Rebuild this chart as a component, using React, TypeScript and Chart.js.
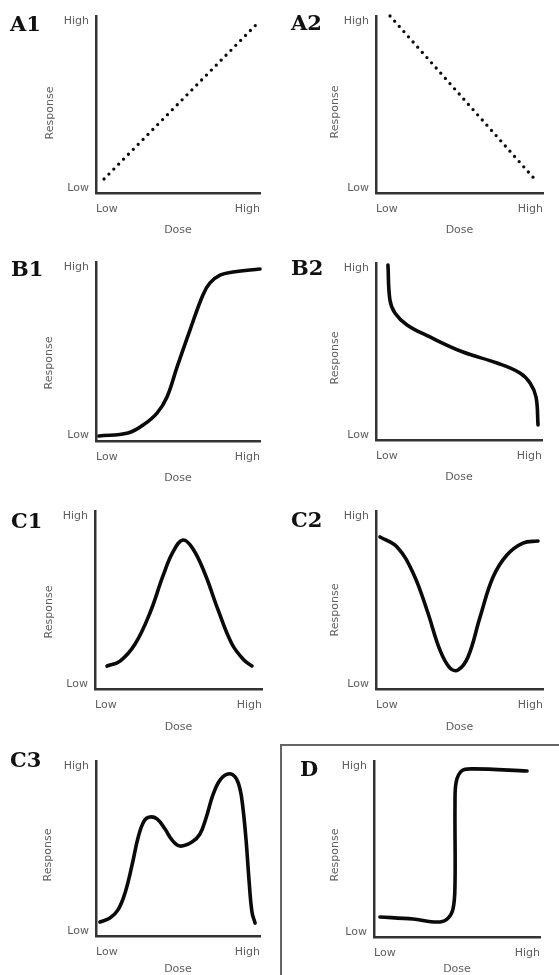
import React, { useEffect, useRef } from 'react';
import { Chart, registerables } from 'chart.js';

Chart.register(...registerables);

// ---- shared axis text ----
const xTickValues = [0, 100];
const xTickLabels = ['Low', 'High'];
const yTickValues = [3, 97];
const yTickLabels = ['Low', 'High'];
const xAxisTitle = 'Dose';
const yAxisTitle = 'Response';

// ---- data (dose 0..100 along x, response 0..100 along y) ----
const a1Dose = [4.9, 100];
const a1Response = [7.9, 97.3];

const a2Dose = [8.4, 94.6];
const a2Response = [100, 8.3];

const b1Dose = [1.8, 19.5, 28.7, 37.2, 43.3, 49.4, 57.3, 65.2, 69.5, 75.6, 83.5, 100];
const b1Response = [2.8, 4.5, 8.9, 15.6, 24.6, 41.3, 62, 81.6, 88.3, 92.7, 94.4, 96.1];

const b2Dose = [7.2, 8.4, 11.4, 18.7, 32.5, 52.4, 72.9, 86.7, 92.8, 96.4, 97.6];
const b2Response = [98.9, 79.1, 71.8, 65, 58.2, 49.7, 43.5, 37.9, 32.2, 24.3, 8.5];

const c1Dose = [7.2, 15, 24, 32.9, 40.7, 46.7, 52.7, 58.7, 65.9, 73.7, 82, 89.2, 94];
const c1Response = [12.9, 15.7, 25.3, 42.7, 63.5, 77, 83.7, 78.7, 64.6, 44.4, 25.3, 16.3, 12.9];

const c2Dose = [2.4, 12.6, 22.2, 30.5, 38.3, 44.3, 49.1, 55.1, 62.3, 70.1, 78.4, 88, 97];
const c2Response = [85.4, 79.8, 65.2, 44.4, 21.9, 11.8, 10.7, 18, 40.4, 62.9, 75.3, 82, 83.1];

const c3Dose = [2.4, 8.5, 13.4, 17.7, 22, 25.6, 29.3, 32.9, 37.2, 42.1, 46.3, 51.2, 58.5, 63.4, 67.1, 71.3, 75.6, 80.5, 84.8, 87.8, 89.6, 91.5, 93.3, 95.1, 97];
const c3Response = [8, 10.3, 14.9, 24.6, 40.6, 56, 65.7, 68, 66.9, 61.1, 54.9, 51.4, 53.7, 58.3, 67.4, 80.6, 89.1, 92.6, 90.9, 84, 73.1, 54.9, 32, 13.7, 7.4];

const dDose = [3.6, 23.5, 38, 44, 47.6, 48.8, 48.8, 49.5, 53, 60, 92.2];
const dResponse = [11.4, 10.2, 8.5, 10.2, 16, 30, 75, 88, 94.5, 95.5, 94.3];

// ---- layout / style ----
type Box = { x: number; y: number; w: number; h: number };
type Area = { l: number; r: number; t: number; b: number };
type PanelDef = {
  letter: string;
  dose: number[];
  response: number[];
  dotted?: boolean;
  tension: number;
  canvas: Box;
  area: Area;
  letterX: number;
  letterY: number;
  yTitleX: number;
  yTitleY: number;
  doseOffset: number;
};

const panels: PanelDef[] = [
  { letter: 'A1', dose: a1Dose, response: a1Response, dotted: true, tension: 0,
    canvas: { x: 0, y: 0, w: 280, h: 245 }, area: { l: 96, r: 260, t: 16, b: 193 },
    letterX: 10, letterY: 31, yTitleX: 50, yTitleY: 113, doseOffset: 37 },
  { letter: 'A2', dose: a2Dose, response: a2Response, dotted: true, tension: 0,
    canvas: { x: 280, y: 0, w: 279, h: 245 }, area: { l: 376, r: 543, t: 16, b: 193 },
    letterX: 291, letterY: 30, yTitleX: 335, yTitleY: 112, doseOffset: 37 },
  { letter: 'B1', dose: b1Dose, response: b1Response, tension: 0.4,
    canvas: { x: 0, y: 245, w: 280, h: 250 }, area: { l: 96, r: 260, t: 262, b: 441 },
    letterX: 11, letterY: 276, yTitleX: 49, yTitleY: 363, doseOffset: 37 },
  { letter: 'B2', dose: b2Dose, response: b2Response, tension: 0.4,
    canvas: { x: 280, y: 245, w: 279, h: 250 }, area: { l: 376, r: 542, t: 263, b: 440 },
    letterX: 291, letterY: 275, yTitleX: 335, yTitleY: 358, doseOffset: 37 },
  { letter: 'C1', dose: c1Dose, response: c1Response, tension: 0.4,
    canvas: { x: 0, y: 495, w: 280, h: 249 }, area: { l: 95, r: 262, t: 511, b: 689 },
    letterX: 11, letterY: 528, yTitleX: 49, yTitleY: 612, doseOffset: 38 },
  { letter: 'C2', dose: c2Dose, response: c2Response, tension: 0.4,
    canvas: { x: 280, y: 495, w: 279, h: 249 }, area: { l: 376, r: 543, t: 511, b: 689 },
    letterX: 291, letterY: 527, yTitleX: 335, yTitleY: 610, doseOffset: 38 },
  { letter: 'C3', dose: c3Dose, response: c3Response, tension: 0.4,
    canvas: { x: 0, y: 745, w: 279, h: 230 }, area: { l: 96, r: 260, t: 761, b: 936 },
    letterX: 10, letterY: 767, yTitleX: 48, yTitleY: 855, doseOffset: 33 },
  { letter: 'D', dose: dDose, response: dResponse, tension: 0.35,
    canvas: { x: 283, y: 747, w: 276, h: 228 }, area: { l: 374, r: 540, t: 761, b: 937 },
    letterX: 300, letterY: 776, yTitleX: 335, yTitleY: 855, doseOffset: 32 },
];

const TEXT_COLOR = '#5e5e5e';
const AXIS_COLOR = '#333333';
const CURVE_COLOR = '#0a0a0a';
const SANS = '"DejaVu Sans", sans-serif';
const TEXT_SIZE = 11;

function PanelChart({ p }: { p: PanelDef }) {
  const ref = useRef<HTMLCanvasElement | null>(null);

  useEffect(() => {
    if (!ref.current) return;
    const c = p.canvas;
    const a = p.area;
    const titleLine = TEXT_SIZE; // lineHeight 1
    const yW = a.l - c.x;
    const xH = p.doseOffset + titleLine / 2;
    const padTop = a.t - c.y;
    const padRight = c.x + c.w - a.r;
    const padBottom = Math.max(0, c.y + c.h - a.b - xH);

    const decor = {
      id: 'panelDecor' + p.letter,
      afterDraw(chart: Chart) {
        const ctx = chart.ctx;
        ctx.save();
        ctx.fillStyle = '#111';
        ctx.font = 'bold 21px "DejaVu Serif", serif';
        ctx.textAlign = 'left';
        ctx.textBaseline = 'alphabetic';
        ctx.fillText(p.letter, p.letterX - c.x, p.letterY - c.y);
        ctx.restore();

        ctx.save();
        ctx.fillStyle = TEXT_COLOR;
        ctx.font = `${TEXT_SIZE}px ${SANS}`;
        ctx.translate(p.yTitleX - c.x, p.yTitleY - c.y);
        ctx.rotate(-Math.PI / 2);
        ctx.textAlign = 'center';
        ctx.textBaseline = 'middle';
        ctx.fillText(yAxisTitle, 0, 0);
        ctx.restore();
      },
    };

    const chart = new Chart(ref.current, {
      type: 'line',
      data: {
        datasets: [
          {
            data: p.dose.map((x, i) => ({ x, y: p.response[i] })),
            borderColor: CURVE_COLOR,
            borderWidth: p.dotted ? 3.3 : 3.6,
            borderDash: p.dotted ? [0, 6.95] : [],
            borderCapStyle: 'round',
            borderJoinStyle: 'round',
            pointRadius: 0,
            pointHoverRadius: 0,
            fill: false,
            tension: p.tension,
            clip: false as any,
          } as any,
        ],
      },
      options: {
        animation: false,
        responsive: false,
        maintainAspectRatio: false,
        events: [],
        layout: { padding: { left: 0, top: padTop, right: padRight, bottom: padBottom } },
        plugins: {
          legend: { display: false },
          tooltip: { enabled: false },
          title: { display: false },
        },
        scales: {
          x: {
            type: 'linear',
            min: 0,
            max: 100,
            afterFit: (s: any) => { s.height = xH; },
            afterBuildTicks: (s: any) => { s.ticks = xTickValues.map((v) => ({ value: v })); },
            ticks: {
              align: 'inner',
              padding: 10,
              maxRotation: 0,
              autoSkip: false,
              color: TEXT_COLOR,
              font: { family: SANS, size: TEXT_SIZE },
              callback: (v: any) => xTickLabels[xTickValues.indexOf(Number(v))] ?? '',
            },
            grid: { display: false, drawTicks: false, tickLength: 0 },
            border: { display: true, color: AXIS_COLOR, width: 2.5 },
            title: {
              display: true,
              text: xAxisTitle,
              color: TEXT_COLOR,
              font: { family: SANS, size: TEXT_SIZE, lineHeight: 1 },
              padding: 0,
            },
          },
          y: {
            type: 'linear',
            min: 0,
            max: 100,
            afterFit: (s: any) => { s.width = yW; },
            afterBuildTicks: (s: any) => { s.ticks = yTickValues.map((v) => ({ value: v })); },
            ticks: {
              padding: 7,
              autoSkip: false,
              color: TEXT_COLOR,
              font: { family: SANS, size: TEXT_SIZE },
              callback: (v: any) => yTickLabels[yTickValues.indexOf(Number(v))] ?? '',
            },
            grid: { display: false, drawTicks: false, tickLength: 0 },
            border: { display: true, color: AXIS_COLOR, width: 2.5 },
            title: { display: false, text: yAxisTitle },
          },
        },
      } as any,
      plugins: [decor as any],
    });

    return () => chart.destroy();
  }, [p]);

  return (
    <canvas
      ref={ref}
      width={p.canvas.w}
      height={p.canvas.h}
      style={{
        position: 'absolute',
        left: p.canvas.x,
        top: p.canvas.y,
        width: p.canvas.w,
        height: p.canvas.h,
      }}
    />
  );
}

export default function App() {
  return (
    <div
      style={{
        position: 'absolute',
        left: 0,
        top: 0,
        width: 559,
        height: 975,
        background: '#fff',
        overflow: 'hidden',
      }}
    >
      <div
        style={{
          position: 'absolute',
          left: 280,
          top: 744,
          width: 279,
          height: 231,
          borderLeft: '2px solid #666',
          borderTop: '2px solid #666',
          boxSizing: 'border-box',
        }}
      />
      {panels.map((p) => (
        <PanelChart key={p.letter} p={p} />
      ))}
    </div>
  );
}
